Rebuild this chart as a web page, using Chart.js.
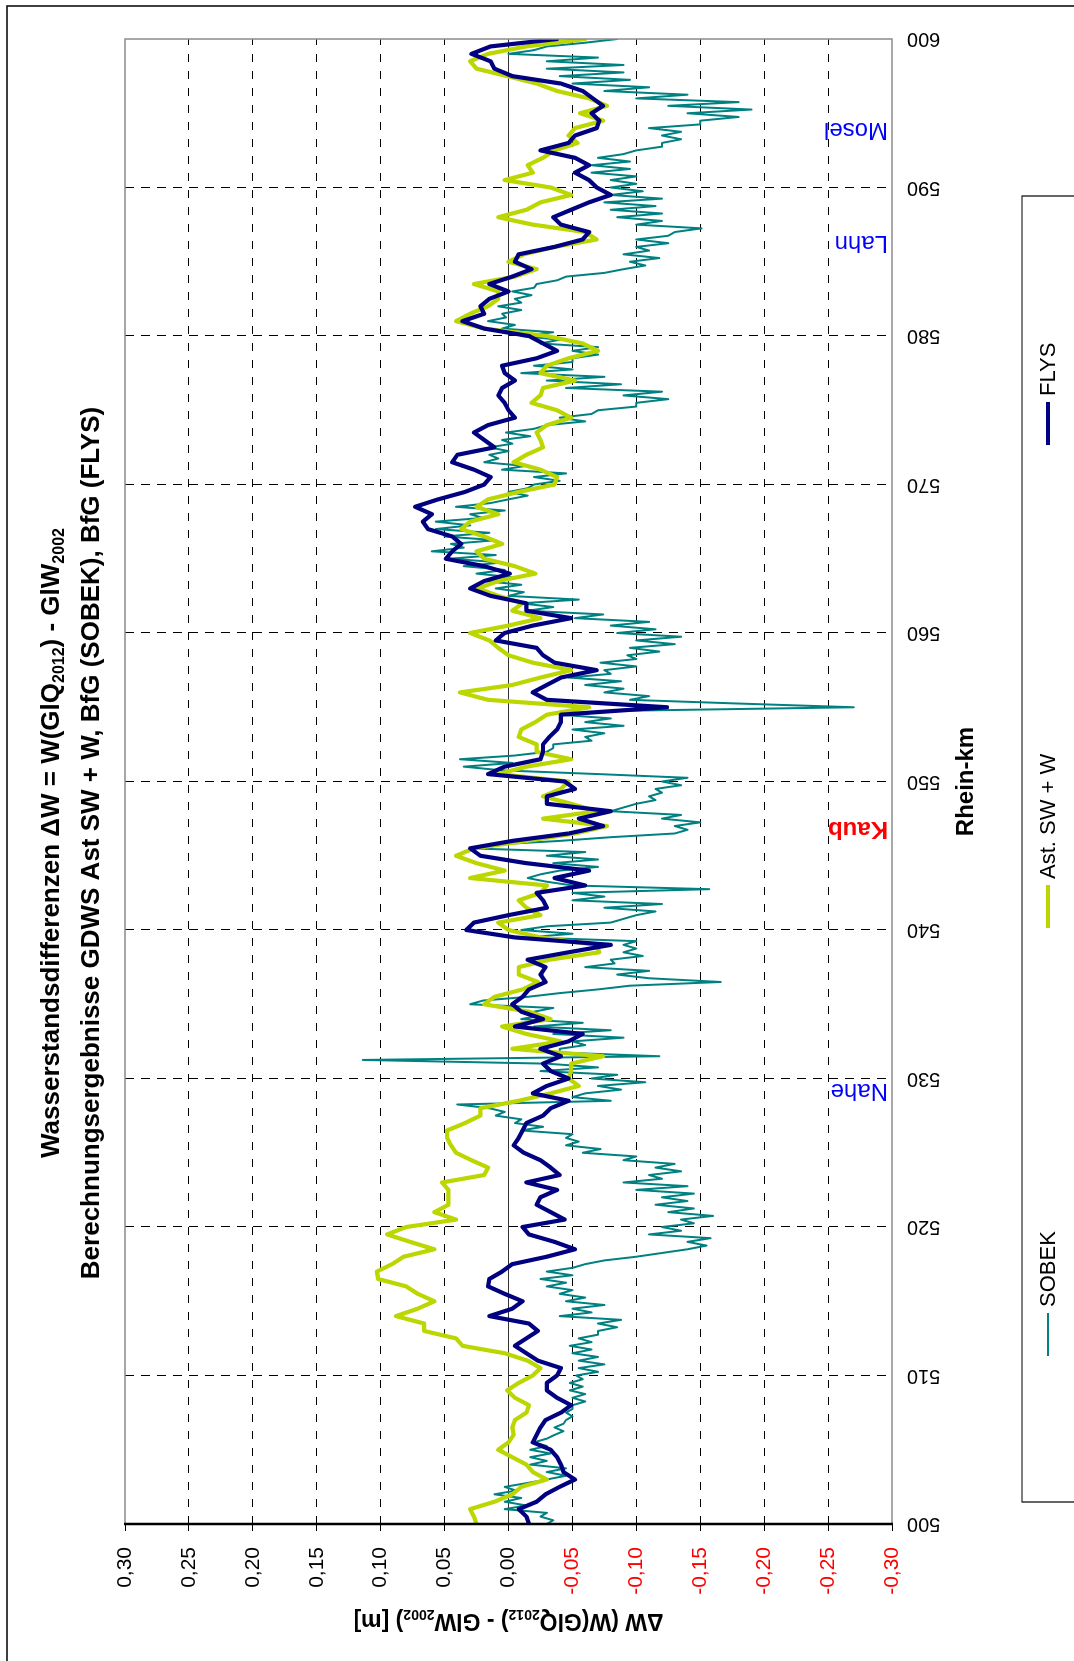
<!DOCTYPE html>
<html>
<head>
<meta charset="utf-8">
<script src="https://cdn.jsdelivr.net/npm/chart.js@4.4.1/dist/chart.umd.min.js"></script>
<style>
    html, body { margin: 0; padding: 0; background: #fff; }
    #page { position: relative; width: 1074px; height: 1661px; overflow: hidden; background: #fff; }
    /* the chart is laid out lying on its side, then turned a quarter to the left */
    #turn { position: absolute; left: 0; top: 0; width: 1661px; height: 1074px;
            transform-origin: 0 0; transform: translate(0, 1661px) rotate(-90deg); }
    canvas { display: block; }
</style>
</head>
<body>
<div id="page"><div id="turn"><canvas id="chart" width="1661" height="1074"></canvas></div></div>
<script>
// Rhein-km range and sampling of the series
const kmStart = 500;
const kmEnd = 600;
const kmTickStep = 10;
const lineStep = 0.5;    // FLYS and Ast. SW + W
const sobekStep = 0.25;  // SOBEK

// FLYS, km 500 .. 600 every 0.5 km
const flysValues = [
    -0.016, -0.014, -0.008, -0.022, -0.029, -0.040, -0.052, -0.043, -0.041, -0.038,
    -0.033, -0.019, -0.022, -0.025, -0.029, -0.041, -0.049, -0.038, -0.030, -0.030,
    -0.038, -0.041, -0.023, -0.014, -0.005, -0.014, -0.023, -0.016, 0.015, -0.003,
    -0.011, 0.003, 0.016, 0.015, 0.005, -0.003, -0.030, -0.052, -0.036, -0.016,
    -0.011, -0.044, -0.033, -0.022, -0.025, -0.038, -0.014, -0.040, -0.033, -0.025,
    -0.012, -0.004, -0.008, -0.011, -0.014, -0.027, -0.033, -0.047, -0.019, -0.030,
    -0.047, -0.033, -0.027, -0.041, -0.025, -0.047, -0.058, -0.005, -0.027, -0.010,
    -0.003, -0.011, -0.016, -0.029, -0.025, -0.029, -0.015, -0.047, -0.080, -0.005,
    0.033, 0.027, 0.000, -0.030, -0.027, -0.022, -0.060, -0.036, -0.063, -0.014,
    0.022, 0.030, -0.003, -0.047, -0.074, -0.055, -0.080, -0.030, -0.030, -0.052,
    -0.044, 0.016, 0.003, -0.025, -0.027, -0.027, -0.032, -0.038, -0.041, -0.041,
    -0.124, -0.030, -0.019, -0.030, -0.041, -0.069, -0.036, -0.027, -0.022, 0.010,
    0.003, -0.019, -0.049, -0.014, -0.014, 0.014, 0.030, 0.019, -0.001, 0.019,
    0.049, 0.044, 0.037, 0.044, 0.063, 0.067, 0.060, 0.073, 0.055, 0.034,
    0.019, 0.014, 0.027, 0.044, 0.040, 0.011, 0.019, 0.027, 0.016, -0.005,
    0.000, 0.003, 0.008, 0.005, -0.005, 0.003, 0.005, -0.022, -0.038, -0.027,
    -0.016, 0.019, 0.036, 0.019, 0.022, 0.015, 0.000, 0.015, -0.003, -0.018,
    -0.005, -0.008, -0.036, -0.058, -0.063, -0.041, -0.035, -0.049, -0.063, -0.080,
    -0.069, -0.063, -0.052, -0.063, -0.052, -0.025, -0.047, -0.052, -0.069, -0.071,
    -0.065, -0.074, -0.066, -0.058, -0.041, -0.003, 0.011, 0.014, 0.029, 0.014,
    -0.038
];

// Ast. SW + W, km 500 .. 600 every 0.5 km
const astValues = [
    0.025, 0.027, 0.030, 0.011, -0.003, -0.010, -0.030, -0.019, -0.014, -0.003,
    0.008, 0.000, -0.004, -0.003, -0.005, -0.014, -0.016, -0.005, 0.001, -0.008,
    -0.019, -0.025, -0.015, 0.003, 0.036, 0.041, 0.066, 0.066, 0.088, 0.071,
    0.058, 0.071, 0.080, 0.102, 0.103, 0.091, 0.082, 0.058, 0.077, 0.095,
    0.080, 0.041, 0.058, 0.047, 0.047, 0.047, 0.052, 0.019, 0.016, 0.029,
    0.041, 0.045, 0.048, 0.048, 0.034, 0.022, 0.022, -0.008, -0.033, -0.055,
    -0.047, -0.049, -0.049, -0.074, -0.003, -0.041, -0.014, 0.005, -0.033, -0.016,
    0.019, 0.011, -0.011, -0.023, -0.008, -0.008, -0.032, -0.071, -0.069, -0.025,
    0.000, 0.008, -0.025, -0.014, -0.008, -0.025, -0.030, 0.030, 0.003, 0.025,
    0.041, 0.027, -0.014, -0.052, -0.077, -0.027, -0.069, -0.049, -0.027, -0.041,
    -0.047, 0.008, -0.014, -0.049, -0.022, -0.022, -0.008, -0.010, -0.021, -0.030,
    -0.063, 0.016, 0.038, -0.003, -0.025, -0.049, -0.019, 0.000, 0.008, 0.015,
    0.030, 0.000, -0.025, -0.003, -0.011, 0.008, 0.024, 0.008, -0.021, -0.005,
    0.019, 0.025, 0.005, 0.019, 0.037, 0.030, 0.008, 0.025, 0.016, -0.008,
    -0.036, -0.038, -0.025, -0.004, -0.014, -0.027, -0.025, -0.022, -0.030, -0.049,
    -0.038, -0.018, -0.025, -0.027, -0.052, -0.025, -0.030, -0.047, -0.070, -0.058,
    -0.030, 0.019, 0.041, 0.030, 0.016, 0.008, 0.008, 0.027, -0.005, -0.022,
    0.000, -0.012, -0.036, -0.069, -0.060, -0.019, 0.008, -0.014, -0.025, -0.049,
    -0.033, 0.003, -0.019, -0.015, -0.027, -0.036, -0.054, -0.047, -0.052, -0.074,
    -0.056, -0.077, -0.063, -0.038, -0.022, 0.001, 0.025, 0.030, 0.016, -0.014,
    -0.060
];

// SOBEK, km 500 .. 600 every 0.25 km
const sobekValues = [
    -0.030, -0.035, -0.025, -0.030, 0.003, -0.014, 0.003, -0.010, 0.011, -0.006, 0.003, -0.014, -0.030, -0.045, -0.030, -0.045, -0.017, -0.030, -0.017, -0.033,
    -0.017, -0.030, -0.020, -0.030, -0.036, -0.043, -0.036, -0.043, -0.045, -0.050, -0.045, -0.050, -0.050, -0.060, -0.050, -0.060, -0.048, -0.058, -0.048, -0.058,
    -0.053, -0.070, -0.055, -0.075, -0.055, -0.070, -0.050, -0.065, -0.048, -0.065, -0.055, -0.070, -0.070, -0.085, -0.070, -0.088, -0.040, -0.065, -0.050, -0.075,
    -0.045, -0.060, -0.040, -0.050, -0.030, -0.045, -0.025, -0.050, -0.030, -0.050, -0.060, -0.075, -0.100, -0.120, -0.140, -0.155, -0.140, -0.158, -0.110, -0.135,
    -0.120, -0.145, -0.135, -0.160, -0.125, -0.145, -0.115, -0.140, -0.120, -0.145, -0.100, -0.140, -0.090, -0.120, -0.110, -0.135, -0.115, -0.130, -0.090, -0.100,
    -0.058, -0.072, -0.045, -0.055, -0.045, -0.050, -0.010, -0.027, -0.005, -0.010, 0.010, 0.003, 0.015, 0.040, -0.080, -0.050, -0.060, -0.088, -0.070, -0.107,
    -0.065, -0.085, -0.025, -0.070, -0.030, 0.114, -0.118, -0.040, -0.040, -0.060, -0.050, -0.090, -0.035, -0.080, -0.020, -0.058, -0.010, -0.025, -0.020, -0.035,
    0.030, 0.020, -0.015, -0.040, -0.070, -0.095, -0.166, -0.110, -0.085, -0.110, -0.060, -0.083, -0.080, -0.105, -0.090, -0.100, -0.090, -0.100, -0.015, -0.050,
    -0.010, -0.030, -0.080, -0.090, -0.100, -0.115, -0.075, -0.120, -0.050, -0.075, -0.050, -0.157, -0.050, -0.030, -0.015, -0.025, -0.040, -0.070, -0.035, -0.070,
    -0.030, -0.060, 0.030, 0.012, -0.040, -0.080, -0.130, -0.140, -0.130, -0.150, -0.120, -0.135, -0.080, -0.090, -0.100, -0.115, -0.110, -0.120, -0.115, -0.135,
    -0.120, -0.140, -0.070, 0.005, 0.035, -0.003, 0.038, -0.005, -0.030, -0.035, -0.035, -0.065, -0.060, -0.075, -0.050, -0.090, -0.060, -0.080, -0.040, -0.080,
    -0.270, -0.180, -0.095, -0.110, -0.075, -0.090, -0.060, -0.088, -0.047, -0.080, -0.075, -0.100, -0.072, -0.100, -0.093, -0.118, -0.095, -0.130, -0.100, -0.135,
    -0.085, -0.115, -0.080, -0.110, -0.052, -0.074, -0.015, -0.035, -0.010, -0.055, 0.000, -0.012, 0.010, -0.010, 0.019, -0.003, 0.025, 0.003, 0.035, 0.005,
    0.046, 0.010, 0.060, 0.035, 0.045, 0.010, 0.050, 0.015, 0.057, 0.030, 0.057, 0.020, 0.030, 0.003, 0.041, 0.014, 0.000, -0.015, 0.000, -0.015,
    -0.020, -0.040, -0.020, -0.045, 0.005, -0.013, 0.019, 0.008, 0.015, 0.000, 0.015, -0.003, 0.005, -0.017, 0.002, -0.020, -0.030, -0.060, -0.040, -0.065,
    -0.070, -0.100, -0.100, -0.125, -0.090, -0.120, -0.045, -0.088, -0.030, -0.075, -0.010, -0.050, -0.020, -0.050, -0.050, -0.070, -0.050, -0.070, -0.025, -0.040,
    -0.010, -0.035, 0.005, -0.005, 0.016, 0.002, 0.005, -0.010, 0.008, -0.010, -0.005, -0.018, -0.003, -0.020, -0.022, -0.038, -0.045, -0.075, -0.090, -0.107,
    -0.095, -0.118, -0.090, -0.110, -0.100, -0.125, -0.100, -0.125, -0.130, -0.151, -0.100, -0.120, -0.085, -0.120, -0.080, -0.115, -0.075, -0.120, -0.080, -0.105,
    -0.080, -0.100, -0.080, -0.100, -0.065, -0.095, -0.065, -0.095, -0.070, -0.090, -0.100, -0.120, -0.120, -0.135, -0.120, -0.135, -0.110, -0.150, -0.150, -0.180,
    -0.140, -0.190, -0.125, -0.180, -0.100, -0.140, -0.075, -0.110, -0.050, -0.095, -0.040, -0.090, -0.030, -0.090, -0.030, -0.070, 0.000, -0.020, -0.030, -0.060,
    -0.085
];

// axis range of the water level difference
const yMin = -0.30;
const yMax = 0.30;
const yTickStep = 0.05;

// series names in legend order
const seriesNames = ['SOBEK', 'Ast. SW + W', 'FLYS'];
const seriesColors = ['#008080', '#bcd600', '#000080'];

// tributaries / gauge marked at the right edge
const placeNames = ['Nahe', 'Kaub', 'Lahn', 'Mosel'];
const placeKm = [529.2, 546.8, 586.3, 593.9];
const placeColors = ['#0000ff', '#ff0000', '#0000ff', '#0000ff'];
const placeBold = [false, true, false, false];

const FONT = '"Liberation Sans", Arial, Helvetica, sans-serif';

function toPoints(values, step) {
    const expected = Math.round((kmEnd - kmStart) / step) + 1;
    if (values.length !== expected) {
        throw new Error('series has ' + values.length + ' values, expected ' + expected);
    }
    return values.map((v, i) => ({ x: kmStart + i * step, y: v }));
}

function formatTick(value) {
    if (Math.abs(value) < 1e-9) return '0,00';
    return value.toFixed(2).replace('.', ',');
}

// text with subscripts, parts = [{t, sub}]
function drawRich(ctx, parts, x, y, size, weight, align) {
    const fontOf = p => weight + ' ' + (p.sub ? Math.round(size * 0.62) : size) + 'px ' + FONT;
    let total = 0;
    parts.forEach(p => { ctx.font = fontOf(p); total += ctx.measureText(p.t).width; });
    let cx = align === 'center' ? x - total / 2 : x;
    ctx.textAlign = 'left';
    ctx.textBaseline = 'middle';
    parts.forEach(p => {
        ctx.font = fontOf(p);
        ctx.fillText(p.t, cx, p.sub ? y + size * 0.28 : y);
        cx += ctx.measureText(p.t).width;
    });
}

const titleLine1 = [
    { t: 'Wasserstandsdifferenzen \u0394W = W(GlQ' }, { t: '2012', sub: true },
    { t: ') - GlW' }, { t: '2002', sub: true }
];
const titleLine2 = [{ t: 'Berechnungsergebnisse GDWS Ast SW + W, BfG (SOBEK), BfG (FLYS)' }];
const yTitle = [
    { t: '\u0394W (W(GlQ' }, { t: '2012', sub: true }, { t: ') - GlW' },
    { t: '2002', sub: true }, { t: ') [m]' }
];

const overlayPlugin = {
    id: 'overlay',
    afterDraw(chart) {
        const ctx = chart.ctx;
        const area = chart.chartArea;
        const xs = chart.scales.x;
        const ys = chart.scales.y;
        ctx.save();

        // plot frame
        ctx.strokeStyle = '#8c8c8c';
        ctx.lineWidth = 1.5;
        ctx.beginPath();
        ctx.moveTo(area.left, area.top);
        ctx.lineTo(area.right, area.top);
        ctx.lineTo(area.right, area.bottom);
        ctx.lineTo(area.left, area.bottom);
        ctx.stroke();
        ctx.strokeStyle = '#000';
        ctx.lineWidth = 2.5;
        ctx.beginPath();
        ctx.moveTo(area.left, area.top - 1);
        ctx.lineTo(area.left, area.bottom + 1);
        ctx.stroke();

        // outer border of the whole figure
        ctx.lineWidth = 1.5;
        ctx.beginPath();
        ctx.moveTo(0, 7);
        ctx.lineTo(1655, 7);
        ctx.lineTo(1655, 1074);
        ctx.stroke();

        // titles
        ctx.fillStyle = '#000';
        drawRich(ctx, titleLine1, 818, 52, 26, 'bold', 'center');
        drawRich(ctx, titleLine2, 818, 92, 26, 'bold', 'center');
        drawRich(ctx, [{ t: 'Rhein-km' }], (area.left + area.right) / 2, 966, 24, 'bold', 'center');

        ctx.save();
        ctx.translate(41, ys.getPixelForValue(0));
        ctx.rotate(-Math.PI / 2);
        drawRich(ctx, yTitle, 0, 0, 23, 'bold', 'center');
        ctx.restore();

        // place names along the right edge
        placeNames.forEach((name, i) => {
            ctx.save();
            ctx.translate(xs.getPixelForValue(placeKm[i]), area.bottom - 4);
            ctx.rotate(-Math.PI / 2);
            ctx.fillStyle = placeColors[i];
            ctx.font = (placeBold[i] ? 'bold ' : '') + '24px ' + FONT;
            ctx.textAlign = 'left';
            ctx.textBaseline = 'middle';
            ctx.fillText(name, 0, 0);
            ctx.restore();
        });

        // legend
        ctx.strokeStyle = '#000';
        ctx.lineWidth = 1.2;
        ctx.beginPath();
        ctx.moveTo(159, 1076);
        ctx.lineTo(159, 1022);
        ctx.lineTo(1465, 1022);
        ctx.lineTo(1465, 1076);
        ctx.stroke();
        const legendStart = [305, 733, 1216];
        const legendWidth = [2, 4, 4];
        seriesNames.forEach((name, i) => {
            const x0 = legendStart[i];
            ctx.strokeStyle = seriesColors[i];
            ctx.lineWidth = legendWidth[i];
            ctx.beginPath();
            ctx.moveTo(x0, 1048);
            ctx.lineTo(x0 + 43, 1048);
            ctx.stroke();
            ctx.fillStyle = '#000';
            ctx.font = '22px ' + FONT;
            ctx.textAlign = 'left';
            ctx.textBaseline = 'middle';
            ctx.fillText(name, x0 + 49, 1049);
        });

        ctx.restore();
    }
};

Chart.defaults.font.family = FONT;

const chart = new Chart(document.getElementById('chart').getContext('2d'), {
    type: 'line',
    data: {
        datasets: [
            { label: seriesNames[2], data: toPoints(flysValues, lineStep), borderColor: seriesColors[2], borderWidth: 4.2 },
            { label: seriesNames[1], data: toPoints(astValues, lineStep), borderColor: seriesColors[1], borderWidth: 4.2 },
            { label: seriesNames[0], data: toPoints(sobekValues, sobekStep), borderColor: seriesColors[0], borderWidth: 2 }
        ]
    },
    options: {
        responsive: false,
        animation: false,
        devicePixelRatio: 1,
        layout: { padding: { left: 0, right: 37, top: 125, bottom: 122 } },
        elements: {
            point: { radius: 0 },
            line: { tension: 0, borderJoinStyle: 'round', borderCapStyle: 'round', fill: false }
        },
        plugins: {
            legend: { display: false },
            tooltip: { enabled: false }
        },
        scales: {
            x: {
                type: 'linear',
                min: kmStart,
                max: kmEnd,
                afterFit: function(scale) { scale.height = 60; },
                ticks: {
                    stepSize: kmTickStep,
                    minRotation: 90,
                    maxRotation: 90,
                    padding: 15,
                    color: '#000',
                    font: { size: 20 },
                    callback: function(value) { return String(value); }
                },
                grid: {
                    drawTicks: false,
                    lineWidth: 1,
                    color: function(ctx) {
                        const v = ctx.tick ? ctx.tick.value : null;
                        return (v === kmStart || v === kmEnd) ? 'rgba(0,0,0,0)' : '#000';
                    }
                },
                border: { display: false, dash: [9, 7] }
            },
            y: {
                min: yMin,
                max: yMax,
                afterFit: function(scale) { scale.width = 137; },
                ticks: {
                    stepSize: yTickStep,
                    padding: 16,
                    font: { size: 21 },
                    color: function(ctx) { return ctx.tick.value < -1e-9 ? '#ff0000' : '#000'; },
                    callback: function(value) { return formatTick(value); }
                },
                grid: {
                    drawTicks: true,
                    tickLength: 7,
                    tickColor: '#000',
                    tickBorderDash: [20, 0],
                    lineWidth: 1,
                    color: function(ctx) {
                        const v = ctx.tick ? ctx.tick.value : 0;
                        if (Math.abs(Math.abs(v) - 0.3) < 1e-9) return 'rgba(0,0,0,0)';
                        return Math.abs(v) < 1e-9 ? '#333' : '#000';
                    }
                },
                border: {
                    display: false,
                    dash: function(ctx) {
                        return (ctx.tick && Math.abs(ctx.tick.value) < 1e-9) ? [] : [8, 9];
                    }
                }
            }
        }
    },
    plugins: [overlayPlugin]
});
</script>
</body>
</html>
